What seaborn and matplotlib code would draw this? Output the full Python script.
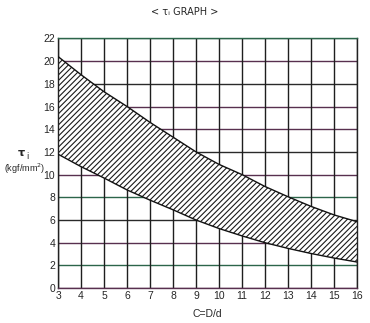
import numpy as np
import pandas as pd
import matplotlib
matplotlib.use("Agg")
import matplotlib.pyplot as plt
import seaborn as sns

# Data
c_values = [3, 4, 5, 6, 7, 8, 9, 10, 11, 12, 13, 14, 15, 16]
tau_upper = [20.4, 18.8, 17.3, 16.0, 14.6, 13.3, 12.0, 10.9, 10.0, 8.95, 8.05, 7.2, 6.45, 5.85]
tau_lower = [11.8, 10.7, 9.7, 8.65, 7.75, 6.9, 6.0, 5.25, 4.6, 4.0, 3.5, 3.05, 2.65, 2.3]
x_ticks = list(range(3, 17))
y_ticks = list(range(0, 23, 2))
hline_kinds = ["p", "g", "p", "d", "g", "p", "d", "p", "p", "d", "p", "g"]

sns.set_theme(style="white")
plt.rcParams["font.family"] = ["Liberation Sans Narrow", "Liberation Sans", "DejaVu Sans"]

df = pd.DataFrame({"C": c_values * 2,
                   "tau": tau_upper + tau_lower,
                   "curve": ["upper"] * len(c_values) + ["lower"] * len(c_values)})

fig = plt.figure(figsize=(3.70, 3.23), dpi=100)
ax = fig.add_axes([0.157, 0.108, 0.808, 0.773])

# grid
kind_colors = {"p": "#58304f", "g": "#2c654a", "d": "#2a2a2a"}
for yv, k in zip(y_ticks, hline_kinds):
    ax.axhline(yv, color=kind_colors[k], lw=1.0, zorder=1)
for xv in x_ticks:
    ax.axvline(xv, color="#1e1e1e", lw=1.0, zorder=1)

plt.rcParams["hatch.linewidth"] = 0.8
plt.rcParams["hatch.color"] = "#1a1a1a"
ax.fill_between(c_values, tau_lower, tau_upper, facecolor="white",
                edgecolor="#1a1a1a", hatch="//////", lw=0, zorder=2)
sns.lineplot(data=df, x="C", y="tau", units="curve", estimator=None,
             color="#111111", lw=1.0, ax=ax, zorder=3, legend=False)

ax.set_xlim(3, 16)
ax.set_ylim(0, 22)
ax.set_xticks(x_ticks)
ax.set_yticks(y_ticks)
ax.set_xticklabels([str(v) for v in x_ticks], fontsize=7.5)
ax.set_yticklabels([str(v) for v in y_ticks], fontsize=7.5)
ax.tick_params(length=0, pad=2)
for s in ax.spines.values():
    s.set_color("#222222")
    s.set_linewidth(1.0)
ax.spines["top"].set_color("#2c654a")
ax.spines["bottom"].set_color("#58304f")
ax.set_xlabel("C=D/d", fontsize=7.5, labelpad=6)
ax.set_ylabel("")

fig.text(0.5, 0.962, "< τ\u1d62 GRAPH >", ha="center", va="center", fontsize=7,
         family=["DejaVu Sans"])
fig.text(0.058, 0.525, "τ", ha="center", va="center", fontsize=8, fontweight="bold",
         family=["DejaVu Sans"])
fig.text(0.073, 0.515, "i", ha="center", va="center", fontsize=6,
         family=["DejaVu Sans"])
fig.text(0.066, 0.478, "(kgf/mm$^2$)", ha="center", va="center", fontsize=6.5)

fig.savefig("out.png", dpi=100, facecolor="white")
